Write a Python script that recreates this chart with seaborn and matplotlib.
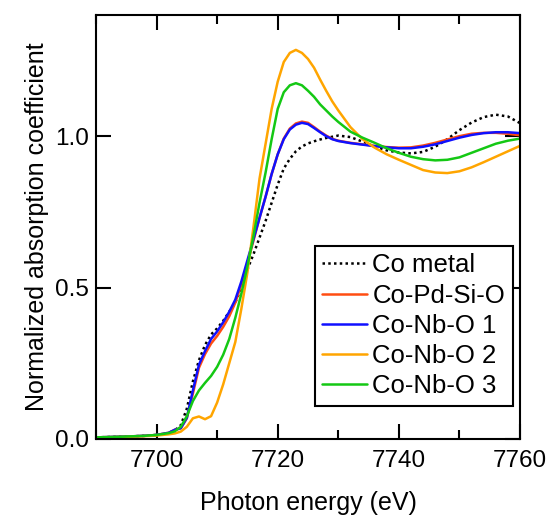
import numpy as np
import pandas as pd
import matplotlib
matplotlib.use("Agg")
import matplotlib.pyplot as plt
import seaborn as sns
from matplotlib.ticker import MultipleLocator

# =========================================================
# DATA
# =========================================================

energy = [7690, 7694, 7698, 7700, 7702, 7703, 7704, 7705, 7706, 7707,
          7708, 7709, 7710, 7711, 7712, 7713, 7714, 7715, 7716, 7717,
          7718, 7719, 7720, 7721, 7722, 7723, 7724, 7725, 7726, 7727,
          7728, 7729, 7730, 7732, 7734, 7736, 7738, 7740, 7742, 7744,
          7746, 7748, 7750, 7752, 7754, 7756, 7758, 7760]

co_metal = [0.005, 0.007, 0.010, 0.013, 0.020, 0.028, 0.045, 0.100, 0.190, 0.260,
            0.310, 0.345, 0.365, 0.390, 0.420, 0.450, 0.500, 0.560, 0.610, 0.665,
            0.720, 0.780, 0.840, 0.893, 0.925, 0.950, 0.966, 0.976, 0.983, 0.989,
            0.994, 0.998, 1.002, 0.997, 0.982, 0.966, 0.953, 0.946, 0.943, 0.948,
            0.965, 0.990, 1.020, 1.045, 1.063, 1.071, 1.065, 1.043]

co_pd_si_o = [0.005, 0.007, 0.010, 0.013, 0.020, 0.030, 0.035, 0.068, 0.150, 0.235,
              0.280, 0.315, 0.340, 0.370, 0.405, 0.450, 0.510, 0.580, 0.655, 0.730,
              0.800, 0.875, 0.940, 0.992, 1.025, 1.042, 1.048, 1.044, 1.030, 1.015,
              1.002, 0.991, 0.985, 0.978, 0.973, 0.968, 0.964, 0.962, 0.963, 0.969,
              0.978, 0.989, 1.000, 1.008, 1.011, 1.011, 1.008, 1.003]

co_nb_o_1 = [0.005, 0.007, 0.010, 0.013, 0.020, 0.030, 0.035, 0.070, 0.160, 0.245,
             0.290, 0.330, 0.355, 0.385, 0.420, 0.460, 0.520, 0.590, 0.660, 0.730,
             0.800, 0.875, 0.940, 0.990, 1.022, 1.038, 1.044, 1.040, 1.027, 1.013,
             1.000, 0.990, 0.984, 0.977, 0.972, 0.967, 0.963, 0.960, 0.960, 0.965,
             0.973, 0.984, 0.995, 1.004, 1.010, 1.013, 1.013, 1.010]

co_nb_o_2 = [0.004, 0.006, 0.009, 0.011, 0.015, 0.018, 0.024, 0.040, 0.068, 0.074,
             0.065, 0.075, 0.120, 0.180, 0.250, 0.320, 0.430, 0.550, 0.700, 0.860,
             0.975, 1.090, 1.180, 1.245, 1.275, 1.285, 1.275, 1.255, 1.226, 1.187,
             1.150, 1.115, 1.085, 1.030, 0.990, 0.962, 0.940, 0.922, 0.905, 0.888,
             0.880, 0.878, 0.884, 0.897, 0.914, 0.932, 0.950, 0.968]

co_nb_o_3 = [0.005, 0.007, 0.010, 0.013, 0.019, 0.025, 0.040, 0.075, 0.125, 0.160,
             0.185, 0.208, 0.238, 0.278, 0.330, 0.400, 0.480, 0.570, 0.670, 0.780,
             0.880, 0.990, 1.090, 1.145, 1.168, 1.175, 1.168, 1.150, 1.130, 1.105,
             1.085, 1.065, 1.047, 1.015, 0.995, 0.978, 0.960, 0.945, 0.932, 0.924,
             0.920, 0.922, 0.930, 0.945, 0.960, 0.975, 0.985, 0.992]

samples = ["Co metal", "Co-Pd-Si-O", "Co-Nb-O 1", "Co-Nb-O 2", "Co-Nb-O 3"]
series = [co_metal, co_pd_si_o, co_nb_o_1, co_nb_o_2, co_nb_o_3]
colors = ["black", "#ff4d12", "#1010ff", "#ffa500", "#14c814"]

x_ticks = [7700, 7720, 7740, 7760]
y_ticks = [0.0, 0.5, 1.0]

df = pd.concat(
    [pd.DataFrame({"energy": energy, "mu": s, "sample": name})
     for name, s in zip(samples, series)],
    ignore_index=True
)

# =========================================================
# PLOT
# =========================================================

sns.set_style("ticks")
plt.rcParams["font.family"] = ["Liberation Sans", "DejaVu Sans"]
plt.rcParams["text.color"] = "black"
plt.rcParams["axes.labelcolor"] = "black"

fig = plt.figure(figsize=(5.5, 5.2), dpi=100)
ax = fig.add_axes([0.1745, 0.156, 0.771, 0.815])

sns.lineplot(
    data=df,
    x="energy",
    y="mu",
    hue="sample",
    style="sample",
    hue_order=samples,
    style_order=samples,
    palette=dict(zip(samples, colors)),
    dashes={s: ((1, 1.3) if s == "Co metal" else "") for s in samples},
    linewidth=1.8,
    ax=ax
)

ax.set_xlim(7690, 7760)
ax.set_ylim(0, 1.40)
ax.set_xticks(x_ticks)
ax.set_yticks(y_ticks)
ax.set_yticklabels([f"{v:.1f}" for v in y_ticks])
ax.xaxis.set_minor_locator(MultipleLocator(10))

ax.tick_params(which="both", direction="in", top=True, right=True,
               width=1.5, labelsize=17.5, colors="black", pad=5)
ax.tick_params(axis="x", pad=8)
ax.tick_params(which="major", length=11)
ax.tick_params(which="minor", length=6.5)
for sp in ax.spines.values():
    sp.set_linewidth(1.5)
    sp.set_color("black")

ax.set_xlabel("Photon energy (eV)", fontsize=18, labelpad=14)
ax.set_ylabel("Normalized absorption coefficient", fontsize=18, labelpad=4)

handles, labels = ax.get_legend_handles_labels()
leg = ax.legend(
    handles, labels,
    loc="lower right",
    bbox_to_anchor=(0.983, 0.078),
    fontsize=18.5,
    frameon=True,
    fancybox=False,
    edgecolor="black",
    handlelength=1.75,
    handletextpad=0.2,
    labelspacing=0.24,
    borderpad=0.3,
    borderaxespad=0
)
leg.get_frame().set_linewidth(1.5)
leg.get_frame().set_alpha(1)

fig.savefig("out.png", dpi=100)
